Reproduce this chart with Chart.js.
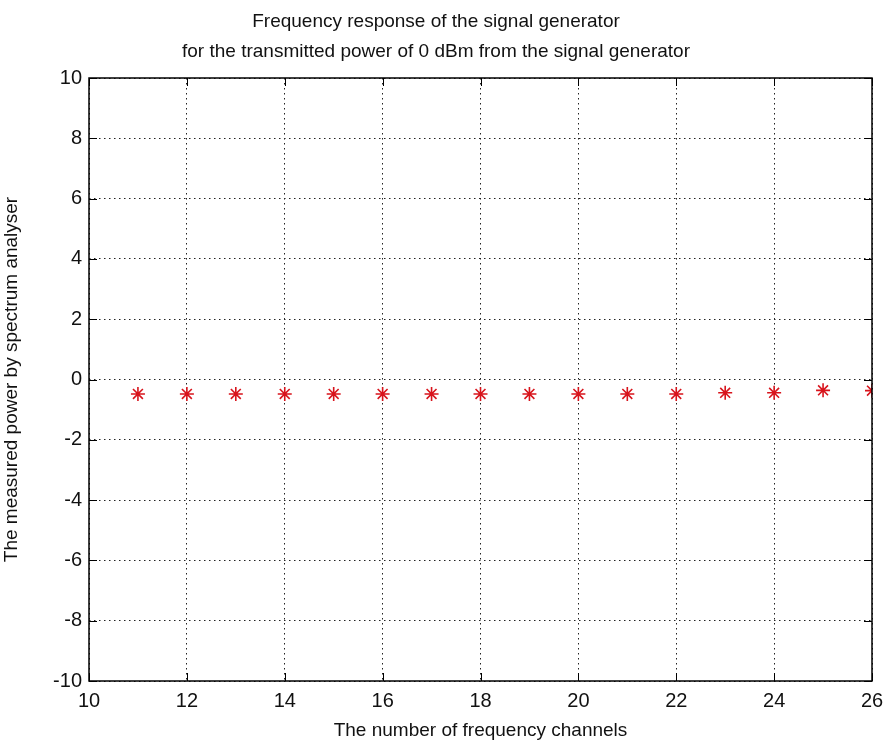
<!DOCTYPE html>
<html>
<head>
<meta charset="utf-8">
<script src="https://cdn.jsdelivr.net/npm/chart.js@4/dist/chart.umd.min.js"></script>
<style>
  body { margin: 0; background: #fff; }
  canvas { display: block; }
</style>
</head>
<body>
<canvas id="myChart" width="885" height="742"></canvas>
<script>
// channel numbers and measured power (dBm)
var channels = [11, 12, 13, 14, 15, 16, 17, 18, 19, 20, 21, 22, 23, 24, 25, 26];
var measuredPower = [-0.48, -0.48, -0.48, -0.48, -0.48, -0.48, -0.48, -0.48, -0.48, -0.48, -0.48, -0.48, -0.44, -0.44, -0.36, -0.37];
var xTicks = [10, 12, 14, 16, 18, 20, 22, 24, 26];
var yTicks = [-10, -8, -6, -4, -2, 0, 2, 4, 6, 8, 10];

var points = channels.map(function (c, i) { return { x: c, y: measuredPower[i] }; });
var fontFamily = '"Liberation Sans", Arial, sans-serif';

// matlab style inward tick marks on all four sides
var inwardTicks = {
  id: 'inwardTicks',
  afterDatasetsDraw: function (chart) {
    var ctx = chart.ctx, a = chart.chartArea, len = 8;
    var xs = chart.scales.x, ys = chart.scales.y;
    ctx.save();
    ctx.strokeStyle = '#000';
    ctx.lineWidth = 1;
    ctx.beginPath();
    xTicks.forEach(function (v) {
      var px = Math.round(xs.getPixelForValue(v)) + 0.5;
      ctx.moveTo(px, a.bottom); ctx.lineTo(px, a.bottom - len);
      ctx.moveTo(px, a.top); ctx.lineTo(px, a.top + len);
    });
    yTicks.forEach(function (v) {
      var py = Math.round(ys.getPixelForValue(v)) + 0.5;
      ctx.moveTo(a.left, py); ctx.lineTo(a.left + len, py);
      ctx.moveTo(a.right, py); ctx.lineTo(a.right - len, py);
    });
    ctx.stroke();
    ctx.lineWidth = 1.5;
    ctx.strokeRect(a.left, a.top, a.right - a.left, a.bottom - a.top);
    ctx.restore();
  }
};

var element = document.getElementById('myChart').getContext('2d');
var chart = new Chart(element, {
  type: 'scatter',
  data: {
    datasets: [{
      label: 'Measured power',
      data: points,
      pointStyle: 'star',
      pointRadius: 7,
      pointHoverRadius: 7,
      borderColor: '#d8141c',
      backgroundColor: '#d8141c',
      pointBorderWidth: 1.6
    }]
  },
  options: {
    responsive: false,
    animation: false,
    layout: { padding: { left: 0, right: 13, top: 0, bottom: 0 } },
    plugins: {
      legend: { display: false },
      tooltip: { enabled: false },
      title: {
        display: true,
        text: ['Frequency response of the signal generator',
               'for the transmitted power of 0 dBm from the signal generator'],
        color: '#111',
        font: { family: fontFamily, size: 19, weight: 'normal', lineHeight: 30 / 19 },
        padding: { top: 7, bottom: 11 }
      }
    },
    scales: {
      x: {
        type: 'linear',
        min: 10, max: 26,
        afterBuildTicks: function (s) { s.ticks = xTicks.map(function (v) { return { value: v }; }); },
        afterFit: function (s) { s.height = 61; s.paddingRight = 0; s.paddingLeft = 0; },
        border: { display: false, dash: [1.5, 3.5] },
        grid: { color: '#222', lineWidth: 1, drawTicks: false },
        ticks: { color: '#111', padding: 8, font: { family: fontFamily, size: 20 }, maxRotation: 0 },
        title: {
          display: true,
          text: 'The number of frequency channels',
          color: '#111',
          font: { family: fontFamily, size: 19 },
          padding: { top: 3, bottom: 0 }
        }
      },
      y: {
        type: 'linear',
        min: -10, max: 10,
        afterBuildTicks: function (s) { s.ticks = yTicks.map(function (v) { return { value: v }; }); },
        afterFit: function (s) { s.width = 89; },
        border: { display: false, dash: [1.5, 3.5] },
        grid: { color: '#222', lineWidth: 1, drawTicks: false },
        ticks: { color: '#111', padding: 7, font: { family: fontFamily, size: 20 } },
        title: {
          display: true,
          text: 'The measured power by spectrum analyser',
          color: '#111',
          font: { family: fontFamily, size: 19 },
          padding: { top: 0, bottom: 4 }
        }
      }
    }
  },
  plugins: [inwardTicks]
});
</script>
</body>
</html>
